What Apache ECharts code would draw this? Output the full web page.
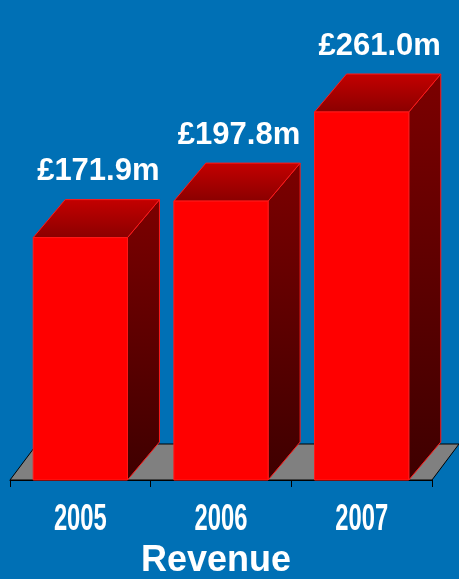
<!DOCTYPE html>
<html>
<head>
<meta charset="utf-8">
<script src="https://cdn.jsdelivr.net/npm/echarts@6/dist/echarts.min.js"></script>
<style>
html,body{margin:0;padding:0;background:#0070B5;}
#chart{width:459px;height:579px;}
</style>
</head>
<body>
<div id="chart"></div>
<script>
var categories = ['2005', '2006', '2007'];
var revenue = [171.9, 197.8, 261.0];
var titleText = 'Revenue';

var DX = 32, DY = 38;

var chart = echarts.init(document.getElementById('chart'), null, {renderer: 'canvas'});

function renderFloor(params, api) {
  var cs = params.coordSys;
  var x0 = cs.x, x1 = cs.x + cs.width, yb = cs.y + cs.height;
  var fdx = 27, fdy = 36;
  return {
    type: 'polygon',
    shape: {points: [[x0, yb], [x1, yb], [x1 + fdx, yb - fdy], [x0 + fdx, yb - fdy]]},
    style: {fill: '#808080', stroke: '#000', lineWidth: 1}
  };
}

function renderBar(params, api) {
  var idx = api.value(0);
  var val = api.value(1);
  var top = api.coord([idx, val]);
  var base = api.coord([idx, 0]);
  var band = api.size([1, 0])[0];
  var w = band * 0.67;
  var xl = top[0] - w / 2, xr = top[0] + w / 2;
  var yt = top[1], yb = base[1];
  var edge = '#ff1a1a';
  return {
    type: 'group',
    children: [
      {
        type: 'polygon',
        shape: {points: [[xr, yt], [xr + DX, yt - DY], [xr + DX, yb - DY], [xr, yb]]},
        style: {
          fill: new echarts.graphic.LinearGradient(0, 0, 0, 1, [
            {offset: 0, color: '#7c0000'}, {offset: 1, color: '#3e0000'}
          ]),
          stroke: edge, lineWidth: 1
        }
      },
      {
        type: 'polygon',
        shape: {points: [[xl, yt], [xr, yt], [xr + DX, yt - DY], [xl + DX, yt - DY]]},
        style: {
          fill: new echarts.graphic.LinearGradient(0, 0, 0, 1, [
            {offset: 0, color: '#c40000'}, {offset: 1, color: '#8a0000'}
          ]),
          stroke: edge, lineWidth: 1
        }
      },
      {
        type: 'rect',
        shape: {x: xl, y: yt, width: w, height: yb - yt},
        style: {fill: '#ff0000', stroke: edge, lineWidth: 1}
      },
      {
        type: 'text',
        style: {
          text: '£' + val.toFixed(1) + 'm',
          x: top[0] + DX / 2 + 2,
          y: yt - DY - 28,
          textAlign: 'center',
          textVerticalAlign: 'middle',
          fill: '#ffffff',
          font: 'bold 31px "Liberation Sans", Arial, sans-serif'
        }
      },
      {
        type: 'text',
        x: top[0],
        y: yb + 40,
        scaleX: 0.66,
        style: {
          text: categories[idx],
          x: 0,
          y: 0,
          textAlign: 'center',
          textVerticalAlign: 'middle',
          fill: '#ffffff',
          font: 'bold 36px "Liberation Sans", Arial, sans-serif'
        }
      }
    ]
  };
}

var option = {
  backgroundColor: '#0070B5',
  animation: false,
  title: {
    text: titleText,
    left: 136,
    top: 538,
    textStyle: {color: '#ffffff', fontSize: 36, fontWeight: 'bold', fontFamily: '"Liberation Sans", Arial, sans-serif'}
  },
  grid: {left: 10, right: 27, top: 57, bottom: 99},
  xAxis: {
    type: 'category',
    data: categories,
    boundaryGap: true,
    axisLine: {show: true, lineStyle: {color: '#000000', width: 1}},
    axisTick: {show: true, length: 7, lineStyle: {color: '#000000'}},
    axisLabel: {show: false}
  },
  yAxis: {
    type: 'value',
    min: 0,
    max: 300,
    show: false,
    splitLine: {show: false}
  },
  series: [
    {
      type: 'custom',
      name: 'floor',
      renderItem: renderFloor,
      data: [[0, 0]],
      z: 1,
      silent: true,
      clip: false
    },
    {
      type: 'custom',
      name: 'Revenue',
      renderItem: renderBar,
      data: revenue.map(function (v, i) { return [i, v]; }),
      encode: {x: 0, y: 1},
      z: 3,
      clip: false
    }
  ]
};
chart.setOption(option);
</script>
</body>
</html>
